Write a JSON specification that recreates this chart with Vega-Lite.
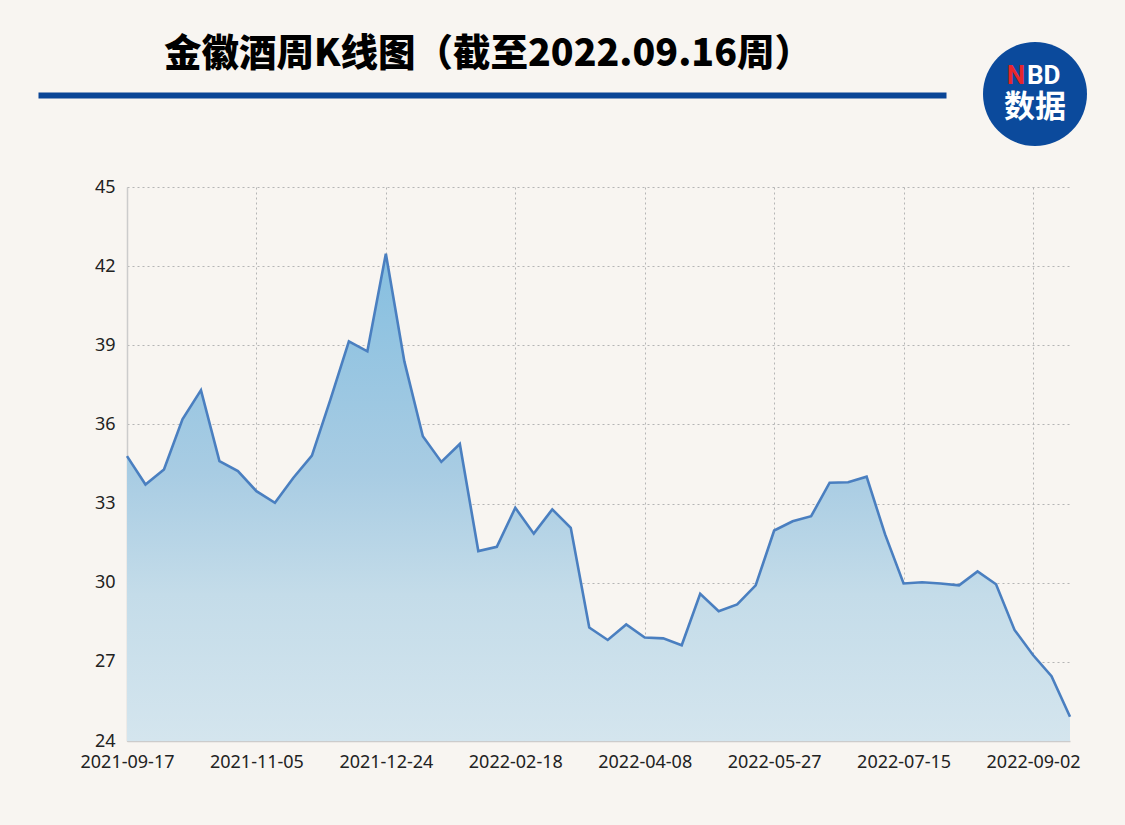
{
  "$schema": "https://vega.github.io/schema/vega-lite/v6.json",
  "background": "#f8f5f1",
  "padding": {"left": 38, "top": 36, "right": 42, "bottom": 62},
  "config": {
    "view": {"stroke": null},
    "font": "Noto Sans CJK SC"
  },
  "datasets": {
    "weekly": [
      {"date": "2021-09-17", "close": 34.80},
      {"date": "2021-09-24", "close": 33.72},
      {"date": "2021-10-01", "close": 34.29},
      {"date": "2021-10-08", "close": 36.19},
      {"date": "2021-10-15", "close": 37.30},
      {"date": "2021-10-22", "close": 34.61},
      {"date": "2021-10-29", "close": 34.23},
      {"date": "2021-11-05", "close": 33.47},
      {"date": "2021-11-12", "close": 33.03},
      {"date": "2021-11-19", "close": 33.98},
      {"date": "2021-11-26", "close": 34.82},
      {"date": "2021-12-03", "close": 36.94},
      {"date": "2021-12-10", "close": 39.15},
      {"date": "2021-12-17", "close": 38.77},
      {"date": "2021-12-24", "close": 42.47},
      {"date": "2021-12-31", "close": 38.39},
      {"date": "2022-01-07", "close": 35.55},
      {"date": "2022-01-14", "close": 34.58},
      {"date": "2022-01-21", "close": 35.26},
      {"date": "2022-01-28", "close": 31.20},
      {"date": "2022-02-11", "close": 31.36},
      {"date": "2022-02-18", "close": 32.84},
      {"date": "2022-02-25", "close": 31.86},
      {"date": "2022-03-04", "close": 32.78},
      {"date": "2022-03-11", "close": 32.08},
      {"date": "2022-03-18", "close": 28.30},
      {"date": "2022-03-25", "close": 27.83},
      {"date": "2022-04-01", "close": 28.42},
      {"date": "2022-04-08", "close": 27.92},
      {"date": "2022-04-15", "close": 27.89},
      {"date": "2022-04-22", "close": 27.63},
      {"date": "2022-04-29", "close": 29.58},
      {"date": "2022-05-06", "close": 28.92},
      {"date": "2022-05-13", "close": 29.18},
      {"date": "2022-05-20", "close": 29.90},
      {"date": "2022-05-27", "close": 31.98},
      {"date": "2022-06-02", "close": 32.33},
      {"date": "2022-06-10", "close": 32.52},
      {"date": "2022-06-17", "close": 33.79},
      {"date": "2022-06-24", "close": 33.81},
      {"date": "2022-07-01", "close": 34.02},
      {"date": "2022-07-08", "close": 31.83},
      {"date": "2022-07-15", "close": 29.97},
      {"date": "2022-07-22", "close": 30.02},
      {"date": "2022-07-29", "close": 29.97},
      {"date": "2022-08-05", "close": 29.90},
      {"date": "2022-08-12", "close": 30.43},
      {"date": "2022-08-19", "close": 29.94},
      {"date": "2022-08-26", "close": 28.21},
      {"date": "2022-09-02", "close": 27.26},
      {"date": "2022-09-09", "close": 26.46},
      {"date": "2022-09-16", "close": 24.92}
    ]
  },
  "spacing": 32,
  "vconcat": [
    {
      "spacing": 37,
      "hconcat": [
        {
          "width": 908,
          "height": 104,
          "data": {"values": [{}]},
          "mark": {
            "type": "text",
            "text": "金徽酒周K线图（截至2022.09.16周）",
            "align": "center",
            "baseline": "middle",
            "dx": -4,
            "dy": -39,
            "fontSize": 37.5,
            "fontWeight": 900,
            "color": "#000000",
            "font": "Noto Sans CJK SC"
          },
          "encoding": {
            "x": {
              "datum": 0.5,
              "type": "quantitative",
              "scale": {"domain": [0, 1]},
              "axis": {
                "orient": "top",
                "offset": -53,
                "domainColor": "#0a4596",
                "domainWidth": 6,
                "ticks": false,
                "labels": false,
                "grid": false,
                "title": null
              }
            }
          }
        },
        {
          "width": 104,
          "height": 104,
          "data": {"values": [{}]},
          "layer": [
            {"mark": {"type": "arc", "color": "#0b4a9c", "radius": 52}, "encoding": {}},
            {"mark": {"type": "text", "text": "N", "color": "#e8262c", "fontSize": 26, "fontWeight": "bold", "font": "Roboto", "align": "right", "baseline": "middle", "dx": -10, "dy": -18}, "encoding": {}},
            {"mark": {"type": "text", "text": "BD", "color": "#ffffff", "fontSize": 26, "fontWeight": "bold", "font": "Roboto", "align": "left", "baseline": "middle", "dx": -8, "dy": -18}, "encoding": {}},
            {"mark": {"type": "text", "text": "数据", "color": "#ffffff", "fontSize": 31, "fontWeight": "bold", "font": "Noto Sans CJK SC", "align": "center", "baseline": "middle", "dy": 14}, "encoding": {}}
          ]
        }
      ]
    },
    {
      "bounds": "flush",
      "spacing": 0,
      "hconcat": [
        {
          "width": 89,
          "height": 10,
          "data": {"values": [{}]},
          "mark": {"type": "text", "text": ""},
          "encoding": {}
        },
        {
          "width": 943,
          "height": 554,
          "data": {"name": "weekly"},
          "mark": {
            "type": "area",
            "opacity": 1,
            "fillOpacity": 1,
            "line": {"color": "#4a7fc0", "strokeWidth": 2.6},
            "color": {
              "gradient": "linear",
              "x1": 0, "y1": 0, "x2": 0, "y2": 1,
              "stops": [
                {"offset": 0, "color": "#86bfe0"},
                {"offset": 0.45, "color": "#a8cce3"},
                {"offset": 0.7, "color": "#c4dce9"},
                {"offset": 1, "color": "#d4e5ee"}
              ]
            }
          },
          "encoding": {
            "x": {
              "field": "date",
              "type": "ordinal",
              "sort": null,
              "scale": {"type": "point", "padding": 0},
              "axis": {
                "values": ["2021-09-17", "2021-11-05", "2021-12-24", "2022-02-18", "2022-04-08", "2022-05-27", "2022-07-15", "2022-09-02"],
                "labelAngle": 0,
                "title": null,
                "ticks": false,
                "domainColor": "#cccccc",
                "domainWidth": 1.5,
                "grid": true,
                "gridDash": [2, 3],
                "gridColor": "#b5b5b5",
                "labelFontSize": 18,
                "labelFont": "Noto Sans",
                "labelColor": "#222222",
                "labelPadding": 12
              }
            },
            "y": {
              "field": "close",
              "type": "quantitative",
              "scale": {"domain": [24, 45], "nice": false, "zero": false},
              "axis": {
                "values": [24, 27, 30, 33, 36, 39, 42, 45],
                "title": null,
                "ticks": false,
                "domainColor": "#cccccc",
                "domainWidth": 1.5,
                "grid": true,
                "gridDash": [2, 3],
                "gridColor": "#b5b5b5",
                "labelFontSize": 18,
                "labelFont": "Noto Sans",
                "labelColor": "#222222",
                "labelPadding": 12
              }
            },
            "y2": {"datum": 24}
          }
        }
      ]
    }
  ]
}
